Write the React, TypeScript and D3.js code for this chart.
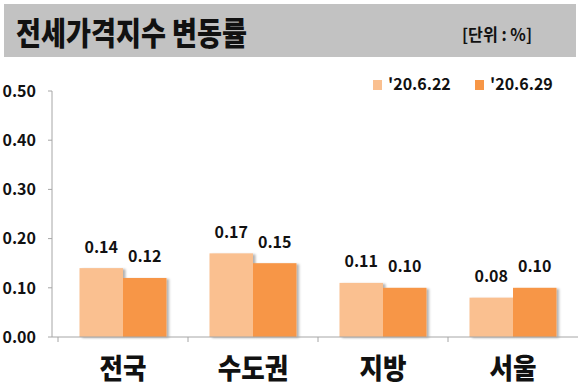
import React from "react";
import * as d3 from "d3";

const categories = ["전국", "수도권", "지방", "서울"];
const seriesNames = ["'20.6.22", "'20.6.29"];
const seriesA = [0.14, 0.17, 0.11, 0.08];
const seriesB = [0.12, 0.15, 0.1, 0.1];
const yTicks = [0, 0.1, 0.2, 0.3, 0.4, 0.5];
const colors = ["#fac090", "#f79646"];

const W = 580;
const H = 390;
const FONT = "'Noto Sans CJK KR', 'Noto Sans', sans-serif";

export default function App() {
  const x = d3.scaleBand<string>().domain(categories).range([58, 578]).paddingInner(0).paddingOuter(0);
  const y = d3.scaleLinear().domain([0, 0.5]).range([337, 91]);
  const barW = x.bandwidth() * (43.5 / 130);
  const sub = d3.scaleBand<number>().domain([0, 1]).range([0, barW * 2]);
  const series = [seriesA, seriesB];
  const fmt = d3.format(".2f");

  return (
    <svg width={W} height={H} style={{ position: "absolute", left: 0, top: 0, background: "#fff" }}>
      <defs>
        <filter id="sh" x="-20%" y="-20%" width="150%" height="140%">
          <feDropShadow dx="2.5" dy="1" stdDeviation="1.2" floodColor="#000" floodOpacity="0.3" />
        </filter>
      </defs>
      <rect x={0} y={0} width={W} height={H} fill="#fff" />
      {/* header */}
      <rect x={4} y={4} width={572} height={53} fill="#c2c2c2" />
      <text x={16} y={45} fontFamily={FONT} fontWeight={900} fontSize={32} fill="#111"
        textLength={231} lengthAdjust="spacingAndGlyphs">전세가격지수 변동률</text>
      <text x={462} y={41} fontFamily={FONT} fontWeight={700} fontSize={17} fill="#111"
        textLength={70} lengthAdjust="spacingAndGlyphs">[단위 : %]</text>

      {/* legend */}
      {seriesNames.map((n, i) => (
        <g key={n} transform={`translate(${i === 0 ? 373 : 475},0)`}>
          <rect x={0} y={80} width={9} height={10} fill={colors[i]} />
          <text x={15} y={90} fontFamily={FONT} fontWeight={700} fontSize={16} fill="#111">{n}</text>
        </g>
      ))}

      {/* y axis */}
      <line x1={52} x2={52} y1={y(0.5)} y2={y(0)} stroke="#a6a6a6" strokeWidth={1} />
      {yTicks.map((t) => (
        <g key={t}>
          <line x1={48} x2={52} y1={y(t)} y2={y(t)} stroke="#a6a6a6" />
          <text x={36} y={y(t)} dy="0.36em" textAnchor="end" fontFamily={FONT} fontWeight={700} fontSize={16} fill="#111">
            {fmt(t)}
          </text>
        </g>
      ))}

      {/* bars */}
      {categories.map((c, ci) => {
        const gx = (x(c) as number) + x.bandwidth() / 2 - barW;
        return (
          <g key={c}>
            {series.map((s, si) => (
              <rect key={si} x={gx + (sub(si) as number)} y={y(s[ci])} width={barW}
                height={y(0) - y(s[ci])} fill={colors[si]} filter="url(#sh)" />
            ))}
            {series.map((s, si) => (
              <text key={"l" + si} x={gx + (sub(si) as number) + barW / 2} y={y(s[ci]) - 15.5}
                textAnchor="middle" fontFamily={FONT} fontWeight={700} fontSize={16} fill="#111">
                {fmt(s[ci])}
              </text>
            ))}
            <text x={(x(c) as number) + x.bandwidth() / 2} y={379} textAnchor="middle"
              fontFamily={FONT} fontWeight={900} fontSize={28} fill="#111"
              textLength={c.length * 23.5} lengthAdjust="spacingAndGlyphs">{c}</text>
          </g>
        );
      })}

      {/* x axis */}
      <line x1={52} x2={578} y1={y(0)} y2={y(0)} stroke="#a6a6a6" />
      {categories.map((c) => (
        <line key={c} x1={x(c) as number} x2={x(c) as number} y1={y(0)} y2={y(0) + 5} stroke="#a6a6a6" />
      ))}
    </svg>
  );
}
